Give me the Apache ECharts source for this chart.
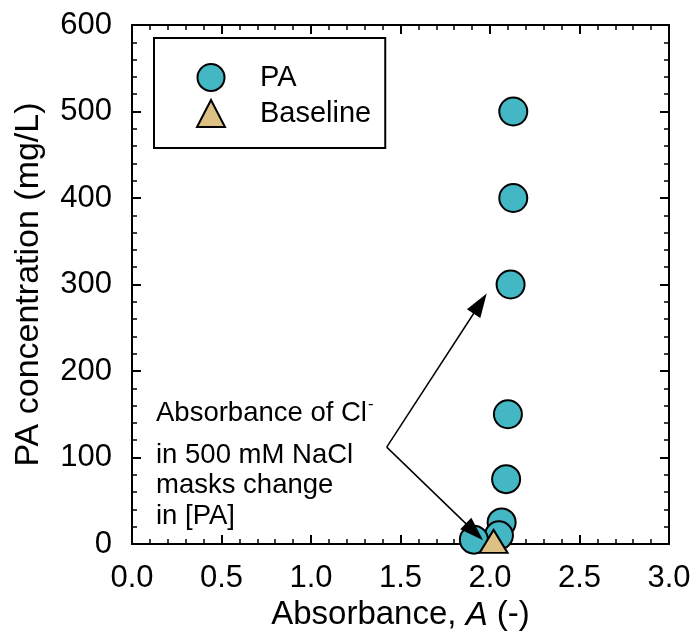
<!DOCTYPE html>
<html lang="en">
<head>
    <meta charset="UTF-8">
    <title>PA concentration vs absorbance</title>
    <script src="https://cdn.jsdelivr.net/npm/echarts@6/dist/echarts.min.js"></script>
    <style type="text/css">
        html, body { margin: 0; padding: 0; background: #fff; }
        #chart { width: 692px; height: 634px; }
    </style>
</head>
<body>
    <div id="chart"></div>
    <script>
        // absorbance (x) vs PA concentration in mg/L (y)
        var paAbs = [2.13, 2.13, 2.115, 2.10, 2.09, 2.065, 2.05, 1.91];
        var paConc = [500, 400, 300, 150, 75, 25, 10, 5];
        var baseAbs = [2.02];
        var baseConc = [3];

        var xTicks = [0, 0.5, 1.0, 1.5, 2.0, 2.5, 3.0];
        var yTicks = [0, 100, 200, 300, 400, 500, 600];

        // annotation arrows (data coords): start at the bend, end near the heads
        var arrowFrom = [1.423, 112];
        var arrowTo = [[1.945, 278], [1.913, 14]];

        var FONT = 'Liberation Sans, Arial, sans-serif';
        var chart = echarts.init(document.getElementById('chart'));

        function zip(xs, ys) {
            return xs.map(function (x, i) { return [x, ys[i]]; });
        }

        var axisCommon = {
            axisLine: { show: true, onZero: false, lineStyle: { color: '#000', width: 2 } },
            axisTick: { show: true, inside: true, length: 9, lineStyle: { color: '#000', width: 2 } },
            minorTick: { show: true, splitNumber: 5, length: 5, lineStyle: { color: '#000', width: 1.5 } },
            splitLine: { show: false }
        };

        var option = {
            animation: false,
            grid: { left: 132, right: 23, top: 25, bottom: 90, containLabel: false, outerBoundsMode: 'none' },
            legend: {
                orient: 'vertical',
                left: 154,
                top: 38,
                padding: [25, 14, 20, 42],
                borderColor: '#000',
                borderWidth: 2,
                itemWidth: 28,
                itemHeight: 27,
                itemGap: 7,
                textStyle: { fontFamily: FONT, fontSize: 29, color: '#000', padding: [0, 0, 0, 30] },
                data: [{ name: 'PA', icon: 'circle' }, { name: 'Baseline', icon: 'triangle' }]
            },
            xAxis: [
                Object.assign({
                    type: 'value', min: 0, max: 3, interval: 0.5, position: 'bottom',
                    name: '{n|Absorbance, }{i|A}{n| (-)}',
                    nameLocation: 'middle', nameGap: 46,
                    nameTextStyle: {
                        rich: {
                            n: { fontFamily: FONT, fontSize: 33, color: '#000' },
                            i: { fontFamily: FONT, fontSize: 33, color: '#000', fontStyle: 'italic' }
                        }
                    },
                    axisLabel: {
                        margin: 19, fontFamily: FONT, fontSize: 31, color: '#000',
                        formatter: function (v) { return xTicks.indexOf(v) >= 0 ? v.toFixed(1) : ''; }
                    }
                }, axisCommon),
                Object.assign({
                    type: 'value', min: 0, max: 3, interval: 0.5, position: 'top',
                    axisLabel: { show: false }
                }, axisCommon)
            ],
            yAxis: [
                Object.assign({
                    type: 'value', min: 0, max: 600, interval: 100, position: 'left',
                    name: 'PA concentration (mg/L)',
                    nameLocation: 'middle', nameGap: 86,
                    nameTextStyle: { fontFamily: FONT, fontSize: 34, color: '#000' },
                    axisLabel: {
                        margin: 20, fontFamily: FONT, fontSize: 31, color: '#000',
                        formatter: function (v) { return yTicks.indexOf(v) >= 0 ? String(v) : ''; }
                    }
                }, axisCommon),
                Object.assign({
                    type: 'value', min: 0, max: 600, interval: 100, position: 'right',
                    axisLabel: { show: false }
                }, axisCommon)
            ],
            graphic: [
                {
                    type: 'text', left: 156, top: 396, z: 10,
                    style: {
                        text: '{a|Absorbance of Cl}{s|-}',
                        rich: {
                            a: { fontFamily: FONT, fontSize: 27.5, fill: '#000' },
                            s: { fontFamily: FONT, fontSize: 17, fill: '#000', padding: [0, 0, 17, 1] }
                        }
                    }
                },
                {
                    type: 'text', left: 156, top: 440, z: 10,
                    style: {
                        text: 'in 500 mM NaCl\nmasks change\nin [PA]',
                        font: '27.5px ' + FONT,
                        lineHeight: 30.5,
                        fill: '#000'
                    }
                }
            ],
            series: [
                {
                    name: 'PA',
                    type: 'scatter',
                    clip: false,
                    z: 2,
                    symbol: 'circle',
                    symbolSize: 28,
                    itemStyle: { color: '#44B7C4', borderColor: '#000', borderWidth: 2, opacity: 1 },
                    data: zip(paAbs, paConc)
                },
                {
                    name: 'arrows',
                    type: 'scatter',
                    z: 3,
                    data: [],
                    markLine: {
                        silent: true,
                        symbol: ['none', 'triangle'],
                        symbolSize: [16, 24],
                        label: { show: false },
                        lineStyle: { color: '#000', width: 1.5, type: 'solid' },
                        data: arrowTo.map(function (p) {
                            return [{ coord: arrowFrom }, { coord: p }];
                        })
                    }
                },
                {
                    name: 'Baseline',
                    type: 'scatter',
                    clip: false,
                    z: 4,
                    symbol: 'triangle',
                    symbolSize: [28, 23],
                    itemStyle: { color: '#DDC084', borderColor: '#000', borderWidth: 2, opacity: 1 },
                    data: zip(baseAbs, baseConc)
                }
            ]
        };

        chart.setOption(option);
    </script>
</body>
</html>
